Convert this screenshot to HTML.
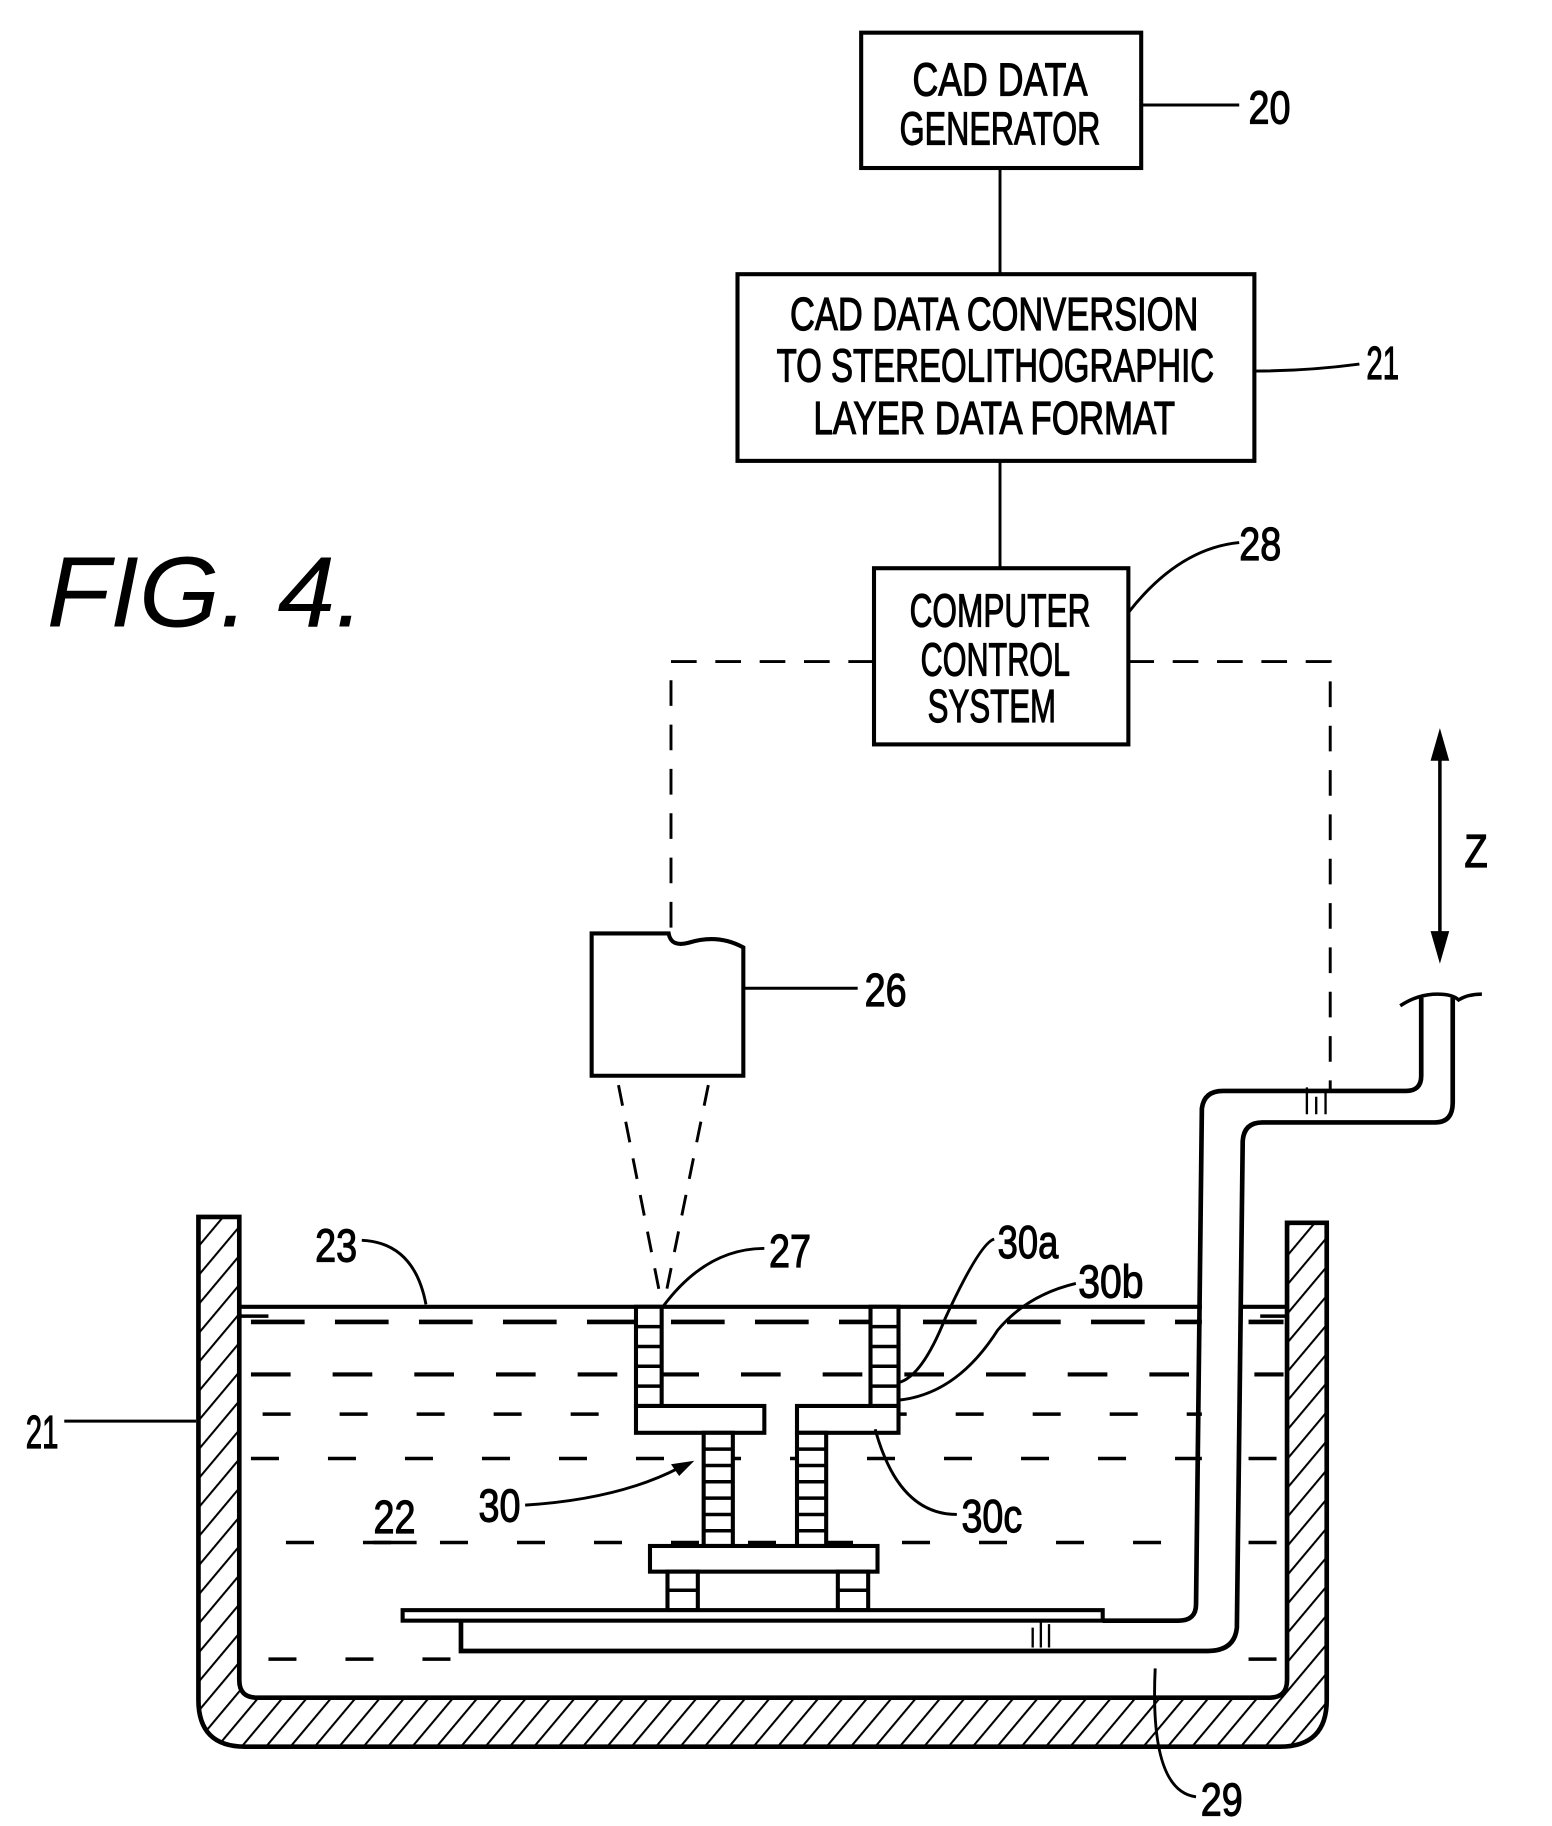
<!DOCTYPE html>
<html><head><meta charset="utf-8"><style>
html,body{margin:0;padding:0;background:#fff;}
svg{display:block;}
text{font-family:"Liberation Sans",sans-serif;fill:#000;}
</style></head><body>
<svg width="1552" height="1826" viewBox="0 0 1330 1565" xmlns="http://www.w3.org/2000/svg">
<defs>
<pattern id="hatch" width="16" height="16" patternUnits="userSpaceOnUse" patternTransform="rotate(40)">
<rect width="16" height="16" fill="#fff"/>
<line x1="0" y1="0" x2="0" y2="16" stroke="#000" stroke-width="3.5"/>
</pattern>
</defs>
<g fill="none" stroke="#000" stroke-width="3.5">
<rect x="738" y="28" width="240" height="116"/>
<rect x="632" y="235" width="443" height="160"/>
<rect x="749" y="487" width="218" height="151"/>
<line x1="857" y1="144" x2="857" y2="235" stroke-width="2.5"/>
<line x1="857" y1="395" x2="857" y2="487" stroke-width="2.5"/>
<line x1="978" y1="90" x2="1062" y2="90" stroke-width="2.5"/>
<path d="M1075 318 Q1120 318 1165 312" stroke-width="2.5"/>
<path d="M967 525 Q1010 470 1062 465" stroke-width="2.5"/>
<path d="M749 567 H575 V800" stroke-width="2.5" stroke-dasharray="22 16"/>
<path d="M967 567 H1140 V935" stroke-width="2.5" stroke-dasharray="22 16"/>
<path d="M507 922 V800 H573 Q575 812 590 808 Q615 800 637 812 V922 Z"/>
<line x1="637" y1="847" x2="735" y2="847" stroke-width="2.5"/>
<path d="M530 930 L566 1112 M607 930 L570 1112" stroke-width="2.5" stroke-dasharray="18 14"/>
<line x1="1234" y1="640" x2="1234" y2="810" stroke-width="3"/>
</g>
<path d="M1234 624 L1226 652 L1242 652 Z M1234 826 L1226 798 L1242 798 Z" fill="#000"/>
<path d="M170 1043 V1457 Q170 1497 210 1497 H1097 Q1137 1497 1137 1457 V1048 H1103 V1440 Q1103 1455 1088 1455 H220 Q205 1455 205 1440 V1043 Z" fill="url(#hatch)" stroke="#000" stroke-width="4"/>
<g fill="none" stroke="#000">
<path d="M205 1120 H1030 M1063 1120 H1103" stroke-width="3.5"/>
<path d="M205 1128 H230 M1080 1128 H1103" stroke-width="3"/>
<g stroke-width="4" stroke-dasharray="46 26">
<line x1="215" y1="1133" x2="1030" y2="1133"/>
<line x1="1070" y1="1133" x2="1100" y2="1133"/>
</g>
<g stroke-width="3.5" stroke-dasharray="34 36">
<line x1="215" y1="1178" x2="1030" y2="1178"/>
<line x1="1075" y1="1178" x2="1100" y2="1178"/>
</g>
<g stroke-width="3" stroke-dasharray="24 42">
<line x1="225" y1="1212" x2="1030" y2="1212"/>
<line x1="215" y1="1250" x2="1030" y2="1250"/>
<line x1="245" y1="1322" x2="1030" y2="1322"/>
<line x1="230" y1="1422" x2="400" y2="1422"/>
<line x1="1070" y1="1250" x2="1100" y2="1250"/>
<line x1="1070" y1="1322" x2="1100" y2="1322"/>
<line x1="1070" y1="1422" x2="1100" y2="1422"/>
</g>
</g>
<g fill="#fff" stroke="#000" stroke-width="3.5">
<rect x="545" y="1120" width="22" height="85"/>
<rect x="746" y="1120" width="24" height="85"/>
<rect x="545" y="1205" width="110" height="23"/>
<rect x="683" y="1205" width="87" height="23"/>
<rect x="603" y="1228" width="25" height="97"/>
<rect x="683" y="1228" width="25" height="97"/>
<rect x="557" y="1325" width="195" height="22"/>
<rect x="572" y="1347" width="26" height="33"/>
<rect x="718" y="1347" width="26" height="33"/>
<rect x="345" y="1380" width="600" height="9"/>
</g>
<g stroke="#000" stroke-width="3">
<path d="M545 1137 H567 M545 1154 H567 M545 1171 H567 M545 1188 H567"/>
<path d="M746 1137 H770 M746 1154 H770 M746 1171 H770 M746 1188 H770"/>
<path d="M603 1242 H628 M603 1256 H628 M603 1270 H628 M603 1284 H628 M603 1298 H628 M603 1312 H628"/>
<path d="M683 1242 H708 M683 1256 H708 M683 1270 H708 M683 1284 H708 M683 1298 H708 M683 1312 H708"/>
<path d="M572 1363 H598 M718 1363 H744"/>
</g>
<g fill="none" stroke="#000" stroke-width="4">
<path d="M945 1389 H1010 Q1025 1389 1025 1375 L1030 950 Q1032 935 1048 935 H1205 Q1218 935 1218 922 V855"/>
<path d="M395 1389 V1415 H1035 Q1058 1415 1060 1395 L1065 978 Q1066 962 1082 962 H1230 Q1245 962 1245 945 V855"/>
<path d="M1200 862 Q1215 852 1232 852 Q1245 852 1250 857 Q1258 852 1270 852" stroke-width="3"/>
</g>
<path d="M1120 955 V932 M1128 955 V940 M1136 955 V936 M885 1412 V1395 M892 1412 V1390 M899 1412 V1392" stroke="#000" stroke-width="2"/>
<g fill="none" stroke="#000" stroke-width="2.5">
<path d="M310 1063 Q355 1065 365 1118"/>
<path d="M655 1070 Q605 1070 568 1120"/>
<path d="M852 1062 Q840 1065 810 1130 Q790 1180 770 1185"/>
<path d="M922 1100 Q880 1110 855 1140 Q820 1195 770 1200"/>
<path d="M820 1298 Q770 1298 750 1225"/>
<path d="M450 1290 Q530 1285 582 1258"/>
<line x1="55" y1="1218" x2="168" y2="1218"/>
<path d="M1025 1540 Q985 1535 990 1430"/>
<line x1="320" y1="1322" x2="357" y2="1322" stroke-width="3"/>
</g>
<path d="M595 1252 L575 1255 L582 1265 Z" fill="#000"/>
<g font-size="40" text-anchor="middle" stroke="#000" stroke-width="1">
<text x="857" y="82" textLength="150" lengthAdjust="spacingAndGlyphs">CAD  DATA</text>
<text x="857" y="124" textLength="172" lengthAdjust="spacingAndGlyphs">GENERATOR</text>
<text x="852" y="283" textLength="350" lengthAdjust="spacingAndGlyphs">CAD  DATA CONVERSION</text>
<text x="853" y="327" textLength="375" lengthAdjust="spacingAndGlyphs">TO STEREOLITHOGRAPHIC</text>
<text x="852" y="372" textLength="310" lengthAdjust="spacingAndGlyphs">LAYER DATA FORMAT</text>
<text x="857" y="537" textLength="155" lengthAdjust="spacingAndGlyphs">COMPUTER</text>
<text x="853" y="579" textLength="128" lengthAdjust="spacingAndGlyphs">CONTROL</text>
<text x="850" y="619" textLength="110" lengthAdjust="spacingAndGlyphs">SYSTEM</text>
<text x="1088" y="106" textLength="36" lengthAdjust="spacingAndGlyphs">20</text>
<text x="1185" y="325" textLength="28" lengthAdjust="spacingAndGlyphs">21</text>
<text x="1080" y="480" textLength="36" lengthAdjust="spacingAndGlyphs">28</text>
<text x="759" y="862" textLength="36" lengthAdjust="spacingAndGlyphs">26</text>
<text x="1265" y="743" textLength="20" lengthAdjust="spacingAndGlyphs">Z</text>
<text x="288" y="1081" textLength="36" lengthAdjust="spacingAndGlyphs">23</text>
<text x="677" y="1086" textLength="36" lengthAdjust="spacingAndGlyphs">27</text>
<text x="881" y="1078" textLength="52" lengthAdjust="spacingAndGlyphs">30a</text>
<text x="952" y="1112" textLength="56" lengthAdjust="spacingAndGlyphs">30b</text>
<text x="850" y="1313" textLength="52" lengthAdjust="spacingAndGlyphs">30c</text>
<text x="428" y="1304" textLength="36" lengthAdjust="spacingAndGlyphs">30</text>
<text x="338" y="1314" textLength="36" lengthAdjust="spacingAndGlyphs">22</text>
<text x="36" y="1241" textLength="28" lengthAdjust="spacingAndGlyphs">21</text>
<text x="1047" y="1556" textLength="36" lengthAdjust="spacingAndGlyphs">29</text>
</g>
<text x="40" y="537" font-size="86" font-style="italic" textLength="272" lengthAdjust="spacingAndGlyphs">FIG.  4.</text>
</svg>
</body></html>
